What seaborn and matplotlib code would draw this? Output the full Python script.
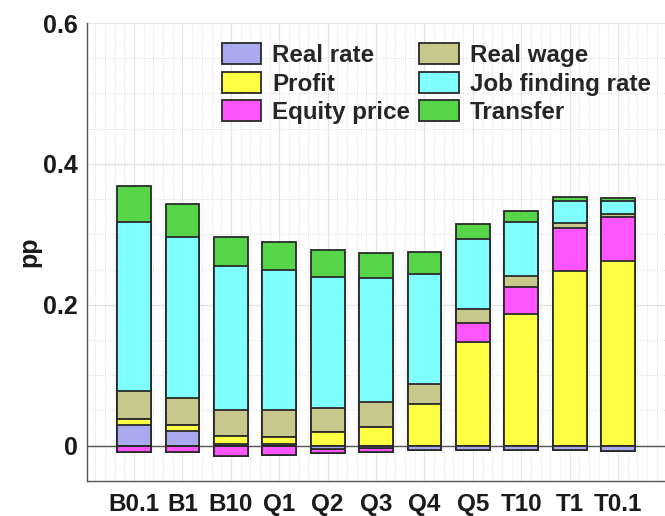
import numpy as np
import pandas as pd
import matplotlib
matplotlib.use("Agg")
import matplotlib.pyplot as plt
from matplotlib.patches import Patch
from matplotlib.ticker import MultipleLocator
import seaborn as sns

# groups on the x axis
groups = ['B0.1', 'B1', 'B10', 'Q1', 'Q2', 'Q3', 'Q4', 'Q5', 'T10', 'T1', 'T0.1']

# contribution of each channel (pp)
real_rate = [0.030, 0.021, 0.003, 0.002, -0.004, -0.003, -0.0065, -0.0065, -0.0065, -0.006, -0.007]
profit = [0.008, 0.009, 0.011, 0.011, 0.020, 0.027, 0.059, 0.1475, 0.187, 0.248, 0.262]
equity_price = [-0.009, -0.009, -0.0145, -0.0135, -0.0065, -0.0055, 0.0, 0.0265, 0.038, 0.061, 0.062]
real_wage = [0.040, 0.038, 0.037, 0.037, 0.034, 0.035, 0.029, 0.020, 0.016, 0.0065, 0.005]
job_finding = [0.240, 0.228, 0.2045, 0.199, 0.186, 0.176, 0.1555, 0.099, 0.076, 0.032, 0.018]
transfer = [0.051, 0.047, 0.041, 0.040, 0.0376, 0.036, 0.032, 0.0215, 0.016, 0.006, 0.004]

channels = ['Real rate', 'Profit', 'Equity price', 'Real wage', 'Job finding rate', 'Transfer']
series = [real_rate, profit, equity_price, real_wage, job_finding, transfer]
colors = ['#a9a9ef', '#ffff44', '#ff55ff', '#c8c88c', '#80ffff', '#57d548']

sns.set_theme(style='white')
plt.rcParams['font.family'] = ['Liberation Sans', 'DejaVu Sans']
plt.rcParams['font.weight'] = 'bold'

fig = plt.figure(figsize=(6.65, 5.16), dpi=100)
ax = fig.add_axes([0.131, 0.068, 0.869, 0.8874])

vals = np.array(series)
pos = np.cumsum(np.clip(vals, 0, None), axis=0)
neg = np.cumsum(np.clip(vals, None, 0), axis=0)

# stacked bars: draw cumulative totals from the outermost layer inwards
for cum in (pos, neg):
    for k in range(len(channels) - 1, -1, -1):
        df = pd.DataFrame({'group': groups, 'value': cum[k]})
        sns.barplot(data=df, x='group', y='value', order=groups, color=colors[k],
                    saturation=1, width=0.7, edgecolor='#2a2a2a', linewidth=1.3,
                    ax=ax, zorder=3)

ax.axhline(0, color='#555555', lw=1.0, zorder=2)

ax.set_xlim(-0.97, 10.97)
ax.set_ylim(-0.05, 0.6)
ax.set_yticks([0, 0.2, 0.4, 0.6])
ax.set_yticklabels(['0', '0.2', '0.4', '0.6'])
ax.yaxis.set_minor_locator(MultipleLocator(0.05))
ax.xaxis.set_minor_locator(MultipleLocator(0.2))
ax.grid(which='major', color='#e4e4e4', lw=0.9, zorder=0)
ax.grid(which='minor', color='#d6d6d6', lw=0.6, ls=':', zorder=0)
ax.set_axisbelow(True)

ax.tick_params(axis='both', which='major', direction='in', length=5, width=1,
               color='#555555', labelsize=18, pad=7)
ax.tick_params(axis='x', which='major', pad=9, labelsize=17.5)
ax.tick_params(which='minor', length=0)
for t in ax.get_xticklabels() + ax.get_yticklabels():
    t.set_fontweight('bold')
    t.set_color('#1a1a1a')

ax.set_xlabel('')
ax.set_ylabel('pp', fontsize=18, fontweight='bold', color='#1a1a1a', labelpad=1)

for s in ['top', 'right']:
    ax.spines[s].set_visible(False)
for s in ['left', 'bottom']:
    ax.spines[s].set_color('#555555')
    ax.spines[s].set_linewidth(1.0)

handles = [Patch(facecolor=c, edgecolor='#2a2a2a', linewidth=1.3) for c in colors]
ax.legend(handles, channels, ncol=2, frameon=False, loc='upper left',
          bbox_to_anchor=(0.195, 1.003), prop={'weight': 'bold', 'size': 17.4},
          handlelength=1.65, handleheight=0.94, handletextpad=0.45,
          columnspacing=0.35, labelspacing=0.2, borderpad=0.4)

fig.savefig('out.png', dpi=100, facecolor='white')
